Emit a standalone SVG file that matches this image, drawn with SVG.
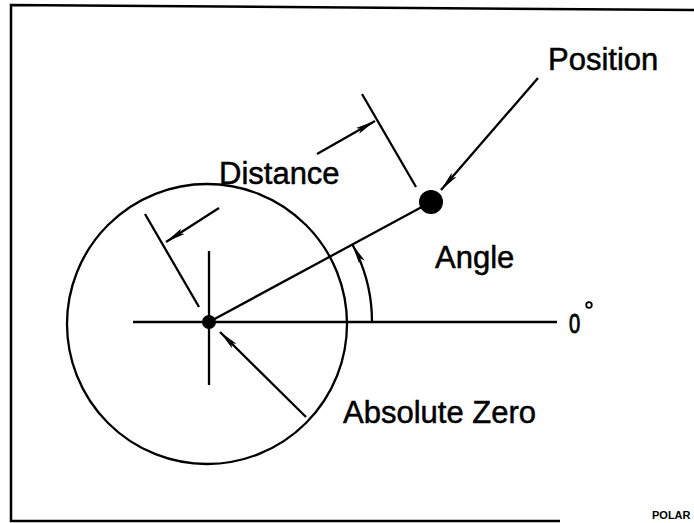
<svg xmlns="http://www.w3.org/2000/svg" width="694" height="523" viewBox="0 0 694 523">
<defs>
<marker id="ah" viewBox="0 0 20 8" refX="20" refY="4" markerWidth="20" markerHeight="8" markerUnits="userSpaceOnUse" orient="auto">
<path d="M0,0.8 L20,4 L0,7.2 L4,4 Z" fill="#000"/>
</marker>
<style>
.ln{stroke:#000;stroke-width:2.3;fill:none;stroke-linecap:butt}
.t{font-family:"Liberation Sans",Arial,sans-serif;font-size:31px;fill:#000;stroke:#000;stroke-width:0.5}
</style>
</defs>
<rect width="694" height="523" fill="#fff"/>
<g id="frame">
<path d="M694,10 L11,5 L11,521 L560,521" fill="none" stroke="#000" stroke-width="2.5"/>
</g>
<g id="circle">
<circle cx="207" cy="324" r="140" class="ln"/>
</g>
<g id="axes">
<line x1="133" y1="322" x2="557" y2="322" class="ln"/>
<line x1="209" y1="251" x2="209" y2="385" class="ln"/>
</g>
<g id="absolute-zero">
<circle cx="209" cy="322" r="7" fill="#000"/>
</g>
<g id="position">
<circle cx="431" cy="202" r="12" fill="#000"/>
</g>
<g id="connectors">
<line x1="209" y1="322" x2="431" y2="202" class="ln"/>
<line x1="362" y1="94" x2="416" y2="187" class="ln"/>
<line x1="145" y1="214" x2="199" y2="307" class="ln"/>
<line x1="317" y1="154" x2="375" y2="121" class="ln" marker-end="url(#ah)"/>
<line x1="219" y1="208" x2="166" y2="242" class="ln" marker-end="url(#ah)"/>
<path d="M372,322 A163,163 0 0 0 352.4,244.5" class="ln" marker-end="url(#ah)"/>
<line x1="538" y1="78" x2="441" y2="190" class="ln" marker-end="url(#ah)"/>
<line x1="306" y1="417" x2="220" y2="332" class="ln" marker-end="url(#ah)"/>
</g>
<g id="labels">
<text class="t" x="548" y="70">Position</text>
<text class="t" x="219" y="184">Distance</text>
<text class="t" x="435" y="268">Angle</text>
<text class="t" x="343" y="423">Absolute Zero</text>
<text class="t" transform="translate(569,333) scale(0.72,1)" x="0" y="0" style="font-size:28px;stroke-width:0.9">0</text>
<circle cx="589" cy="305" r="2.8" fill="none" stroke="#000" stroke-width="1.8"/>
<text x="652" y="519" style="font-family:'Liberation Sans',Arial,sans-serif;font-size:11px;font-weight:bold" fill="#000">POLAR</text>
</g>
</svg>
